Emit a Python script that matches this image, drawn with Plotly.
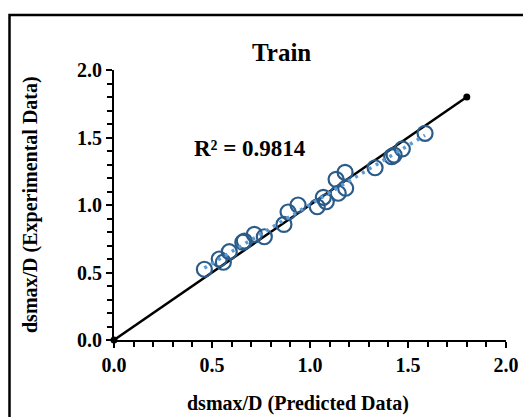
import numpy as np
import plotly.graph_objects as go

# Data
x_pred = [0.461, 0.537, 0.558, 0.588, 0.657, 0.665, 0.716, 0.767, 0.867, 0.888,
          0.939, 1.037, 1.068, 1.083, 1.144, 1.182, 1.133, 1.179, 1.332, 1.417,
          1.429, 1.471, 1.587]
y_exp = [0.524, 0.600, 0.576, 0.654, 0.724, 0.733, 0.783, 0.765, 0.856, 0.948,
         1.000, 0.987, 1.057, 1.024, 1.087, 1.124, 1.190, 1.242, 1.276, 1.358,
         1.370, 1.415, 1.531]
ref_x = [0.0, 1.8]
ref_y = [0.0, 1.8]
tick_vals = [0.0, 0.5, 1.0, 1.5, 2.0]
tick_text = ["0.0", "0.5", "1.0", "1.5", "2.0"]
r2_label = "R² = 0.9814"
title_text = "Train"
x_title = "dsmax/D (Predicted Data)"
y_title = "dsmax/D (Experimental Data)"

# Linear trendline
coef = np.polyfit(x_pred, y_exp, 1)
tx = np.array([min(x_pred), max(x_pred)])
ty = np.polyval(coef, tx)

FONT = "Liberation Serif"
OFF = 8  # page body margin
W, H = 523, 409
L, T = 114 - OFF, 70 - OFF
R = W - (506 - OFF)
B = H - (340 - OFF)
pw, ph = W - L - R, H - T - B

def px(xw):
    return (xw - OFF - L) / pw

def py(yw):
    return (H - B - (yw - OFF)) / ph

fig = go.Figure()
fig.add_trace(go.Scatter(x=ref_x, y=ref_y, mode="lines+markers",
                         line=dict(color="black", width=2.5),
                         marker=dict(color="black", size=7),
                         cliponaxis=False, showlegend=False))
fig.add_trace(go.Scatter(x=x_pred, y=y_exp, mode="markers",
                         marker=dict(symbol="circle-open", size=15, color="#2b5c89",
                                     line=dict(width=2.2)),
                         showlegend=False))
fig.add_trace(go.Scatter(x=tx, y=ty, mode="lines",
                         line=dict(color="#5b9bd5", width=3.5, dash="3px,5px"),
                         showlegend=False))

axis_common = dict(range=[0, 2], showgrid=False, zeroline=False, showline=True,
                   linecolor="black", linewidth=2, ticks="outside", ticklen=6,
                   tickwidth=2, tickcolor="black", tickvals=tick_vals, ticktext=tick_text,
                   tickfont=dict(family=FONT, size=20, color="black", weight="bold"),
                   minor=dict(dtick=0.1, ticks="outside", ticklen=5, tickwidth=1.5,
                              tickcolor="black", showgrid=False),
                   fixedrange=True)

fig.update_layout(
    width=W, height=H,
    margin=dict(l=L, r=R, t=T, b=B),
    paper_bgcolor="white", plot_bgcolor="white",
    xaxis=axis_common,
    yaxis=axis_common,
    shapes=[dict(type="rect", xref="paper", yref="paper",
                 x0=px(9.5), x1=px(560), y0=py(460), y1=py(15),
                 line=dict(color="black", width=2.5), layer="below")],
    annotations=[
        dict(text=title_text, x=px(281), y=py(52), xref="paper", yref="paper",
             showarrow=False, xanchor="center", yanchor="middle",
             font=dict(family=FONT, size=25, color="black", weight="bold")),
        dict(text=r2_label, x=px(250), y=py(148), xref="paper", yref="paper",
             showarrow=False, xanchor="center", yanchor="middle",
             font=dict(family=FONT, size=23, color="black", weight="bold")),
        dict(text=x_title, x=px(298), y=py(403), xref="paper", yref="paper",
             showarrow=False, xanchor="center", yanchor="middle",
             font=dict(family=FONT, size=20, color="black", weight="bold")),
        dict(text=y_title, x=px(30), y=py(205), xref="paper", yref="paper",
             showarrow=False, xanchor="center", yanchor="middle", textangle=-90,
             font=dict(family=FONT, size=20, color="black", weight="bold")),
    ],
)

fig.write_html("out.html")
